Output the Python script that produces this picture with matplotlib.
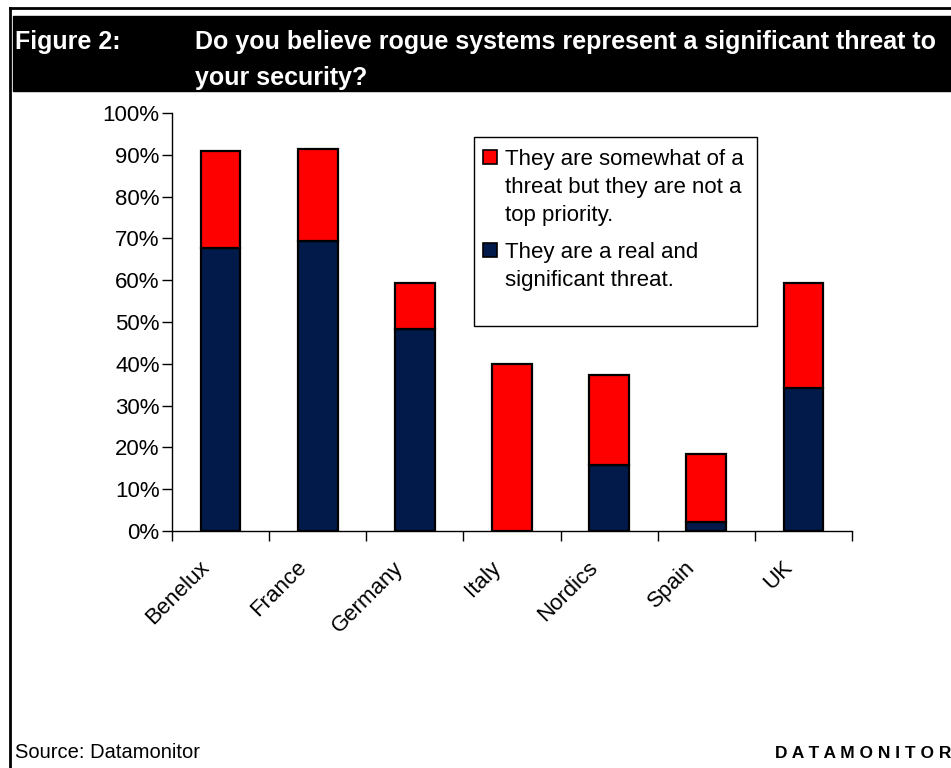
import numpy as np
import matplotlib.pyplot as plt
import matplotlib.transforms as mtransforms
from matplotlib.patches import Rectangle
from matplotlib.ticker import PercentFormatter

plt.rcParams['font.family'] = ['Liberation Sans', 'DejaVu Sans']

countries = ['Benelux', 'France', 'Germany', 'Italy', 'Nordics', 'Spain', 'UK']
real_threat = [67.7, 69.4, 48.3, 0.0, 15.8, 2.2, 34.2]
somewhat_threat = [23.2, 22.0, 11.0, 40.0, 21.5, 16.2, 25.1]
legend_labels = ['They are somewhat of a\nthreat but they are not a\ntop priority.',
                 'They are a real and\nsignificant threat.']
navy, red = '#021a4a', '#ff0000'

W, H = 951, 768
fig = plt.figure(figsize=(W / 100, H / 100), dpi=100)

def px(x0, y0, x1, y1):
    # pixel box (top-left origin) -> figure fraction rect
    return [x0 / W, 1 - y1 / H, (x1 - x0) / W, (y1 - y0) / H]

# outer frame and black header band
fig.add_artist(plt.Line2D([10 / W, 10 / W], [0, 1 - 8 / H], color='black', lw=2, transform=fig.transFigure))
fig.add_artist(plt.Line2D([10 / W, 1], [1 - 8 / H, 1 - 8 / H], color='black', lw=2, transform=fig.transFigure))
hx, hy, hw, hh = px(13, 16, 951, 91)
fig.add_artist(Rectangle((hx, hy), hw, hh, color='black', transform=fig.transFigure))
fig.text(15 / W, 1 - 42 / H, 'Figure 2:', color='white', fontsize=18, fontweight='bold', va='center')
fig.text(195 / W, 1 - 42 / H, 'Do you believe rogue systems represent a significant threat to',
         color='white', fontsize=18, fontweight='bold', va='center')
fig.text(195 / W, 1 - 78 / H, 'your security?', color='white', fontsize=18, fontweight='bold', va='center')

ax = fig.add_axes(px(172, 113, 852, 531))
x = np.arange(len(countries))
ax.bar(x, real_threat, width=0.41, color=navy, edgecolor='black', lw=1.6)
ax.bar(x, somewhat_threat, width=0.41, bottom=real_threat, color=red, edgecolor='black', lw=1.6)

ax.set_xlim(-0.5, len(countries) - 0.5)
ax.set_ylim(0, 100)
ax.set_yticks(np.arange(0, 101, 10))
ax.yaxis.set_major_formatter(PercentFormatter(decimals=0))
ax.set_xticks(np.arange(-0.5, len(countries)))
ax.set_xticklabels([])
ax.tick_params(axis='x', length=7, width=1, direction='out')
ax.tick_params(axis='y', length=7, width=1, labelsize=16, pad=2)
for s in ['top', 'right']:
    ax.spines[s].set_visible(False)
for s in ['left', 'bottom']:
    ax.spines[s].set_linewidth(1)

# rotated category labels, hung below each bar
shift = mtransforms.ScaledTranslation(-22 / 100, -26 / 100, fig.dpi_scale_trans)
for xi, name in zip(x, countries):
    ax.text(xi, 0, name, transform=ax.get_xaxis_transform() + shift, rotation=45,
            ha='right', va='top', rotation_mode='anchor', fontsize=16)

# legend box, drawn by hand so the swatches sit on the first text line
lx, ly, lw_, lh = px(474, 137, 757, 326)
fig.add_artist(Rectangle((lx, ly), lw_, lh, facecolor='white', edgecolor='black', lw=1, transform=fig.transFigure))
for label, color, top in [(legend_labels[0], red, 150), (legend_labels[1], navy, 243)]:
    sx, sy, sw, sh = px(483, top, 497, top + 14)
    fig.add_artist(Rectangle((sx, sy), sw, sh, facecolor=color, edgecolor='black', lw=1.2,
                             transform=fig.transFigure))
    fig.text(505 / W, 1 - (top - 1) / H, label, fontsize=16, va='top', ha='left', linespacing=1.45)

fig.text(15 / W, 1 - 753 / H, 'Source: Datamonitor', fontsize=14.5, va='center')
fig.text(951 / W, 1 - 753 / H, 'D A T A M O N I T O R', fontsize=12.5, fontweight='bold', va='center', ha='right')

fig.savefig('out.png', dpi=100)
